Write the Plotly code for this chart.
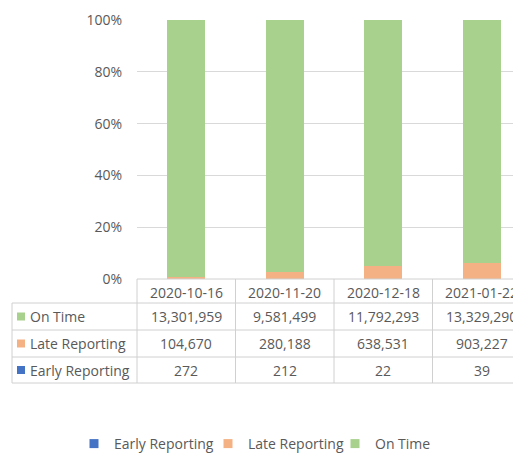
import plotly.graph_objects as go

categories = ["2020-10-16", "2020-11-20", "2020-12-18", "2021-01-22"]
early_reporting = [272, 212, 22, 39]
late_reporting = [104670, 280188, 638531, 903227]
on_time = [13301959, 9581499, 11792293, 13329290]
y_ticks = [0, 20, 40, 60, 80, 100]

series_names = ["Early Reporting", "Late Reporting", "On Time"]
series_values = [early_reporting, late_reporting, on_time]
series_colors = ["#4472C4", "#F4B183", "#A9D18E"]

TEXT = "#595959"
GRID = "#D9D9D9"
TABLE_LINE = "#D0D0D0"
FONT = "Open Sans"

# the page body adds an 8px offset; size the figure to fill the window exactly
OFF = 8
W, H = 521 - OFF, 453 - OFF
ML, MR, MT, MB = 137 - OFF, 0, 20 - OFF, 174
BAND = 98.5
plot_w = W - ML - MR
plot_h = H - MT - MB
x0 = -0.5
x1 = x0 + plot_w / BAND


def xp(i):
    return (i - x0) / (x1 - x0)


def yp(pix):
    return (H - MB - (pix - OFF)) / plot_h


def xpix(pix):
    return (pix - OFF - ML) / plot_w


fig = go.Figure()
for name, vals, col in zip(series_names, series_values, series_colors):
    fig.add_trace(go.Bar(x=categories, y=vals, name=name, marker=dict(color=col, line=dict(width=0)),
                         showlegend=False, hoverinfo="x+y+name"))

# one legend per entry so each key sits where the reference puts it
legend_text_x = [114, 248, 375]
legend_ids = ["legend", "legend2", "legend3"]
legend_layout = {}
for name, col, lid, tx in zip(series_names, series_colors, legend_ids, legend_text_x):
    fig.add_trace(go.Scatter(x=[categories[0]], y=[None], mode="markers", name=name, legend=lid,
                             marker=dict(symbol="square", size=9, color=col), showlegend=True))
    legend_layout[lid] = dict(orientation="h", xref="container", yref="container",
                              x=(tx - 40 - OFF) / W, xanchor="left",
                              y=(453 - 444) / H, yanchor="middle",
                              font=dict(size=14, color=TEXT, family=FONT), bgcolor="rgba(0,0,0,0)")

# table geometry (page pixel rows)
row_edges = [279, 303, 330, 357, 383]
label_left = -0.5 - 125 / BAND
far_right = len(categories) - 0.5
shapes = []
shapes.append(dict(type="line", xref="paper", yref="paper", x0=xp(-0.5), x1=xp(far_right),
                   y0=yp(row_edges[0]), y1=yp(row_edges[0]), line=dict(color=TABLE_LINE, width=1)))
for e in row_edges[1:]:
    shapes.append(dict(type="line", xref="paper", yref="paper", x0=xp(label_left), x1=xp(far_right),
                       y0=yp(e), y1=yp(e), line=dict(color=TABLE_LINE, width=1)))
shapes.append(dict(type="line", xref="paper", yref="paper", x0=xp(label_left), x1=xp(label_left),
                   y0=yp(row_edges[1]), y1=yp(row_edges[-1]), line=dict(color=TABLE_LINE, width=1)))
for i in range(len(categories) + 1):
    xx = i - 0.5
    shapes.append(dict(type="line", xref="paper", yref="paper", x0=xp(xx), x1=xp(xx),
                       y0=yp(row_edges[0]), y1=yp(row_edges[-1]), line=dict(color=TABLE_LINE, width=1)))

annotations = []
hdr_y = yp((row_edges[0] + row_edges[1]) / 2 + 1)
for i, c in enumerate(categories):
    annotations.append(dict(text=c, xref="paper", yref="paper", x=xp(i), y=hdr_y, showarrow=False,
                            xanchor="center", yanchor="middle", font=dict(size=14, color=TEXT, family=FONT)))

table_rows = list(zip(series_names, series_values, series_colors))[::-1]
for r, (name, vals, col) in enumerate(table_rows):
    top, bot = row_edges[r + 1], row_edges[r + 2]
    cy = (top + bot) / 2
    shapes.append(dict(type="rect", xref="paper", yref="paper", x0=xpix(17), x1=xpix(25),
                       y0=yp(cy - 4), y1=yp(cy + 4), fillcolor=col, line=dict(width=0)))
    annotations.append(dict(text=name, xref="paper", yref="paper", x=xpix(28), y=yp(cy), showarrow=False,
                            xanchor="left", yanchor="middle", font=dict(size=14, color=TEXT, family=FONT)))
    for i, v in enumerate(vals):
        annotations.append(dict(text=f"{v:,}", xref="paper", yref="paper", x=xp(i), y=yp(cy), showarrow=False,
                                xanchor="center", yanchor="middle", font=dict(size=14, color=TEXT, family=FONT)))

fig.update_layout(
    width=W, height=H,
    margin=dict(l=ML, r=MR, t=MT, b=MB, autoexpand=False),
    barmode="stack", barnorm="percent", bargap=0.61,
    plot_bgcolor="white", paper_bgcolor="white",
    font=dict(family=FONT, size=14, color=TEXT),
    xaxis=dict(type="category", range=[x0, x1], showticklabels=False, showgrid=False,
               zeroline=False, showline=False, ticks=""),
    yaxis=dict(range=[0, 100], tickvals=y_ticks, ticktext=[f"{t}%" for t in y_ticks],
               showgrid=True, gridcolor=GRID, gridwidth=1, zeroline=False, showline=False,
               ticks="", ticklabelstandoff=14, tickfont=dict(size=14, color=TEXT, family=FONT)),
    shapes=shapes, annotations=annotations,
    **legend_layout,
)

fig.write_html("out.html")
